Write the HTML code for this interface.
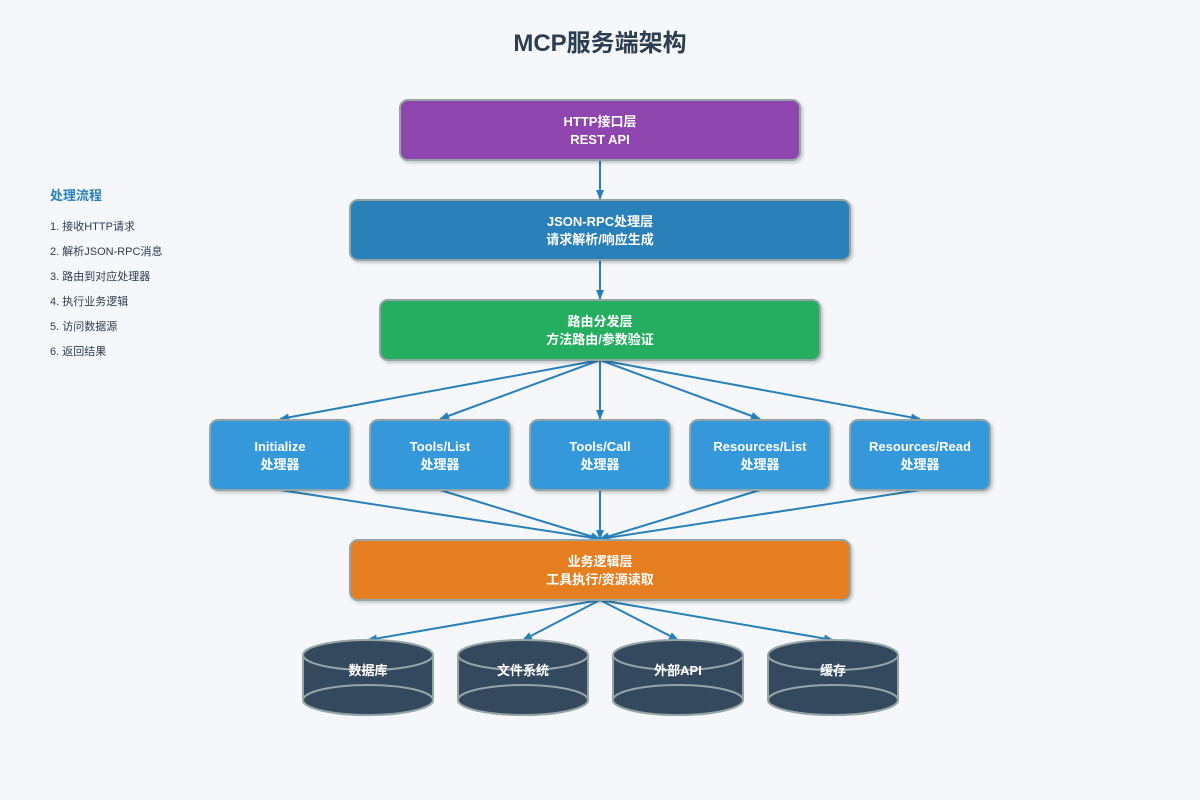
<!DOCTYPE html>
<html><head><meta charset="utf-8"><style>
html,body{margin:0;padding:0;background:#f5f7fa;}
svg{display:block;font-family:"Liberation Sans","Noto Sans CJK SC",sans-serif;}
</style></head><body>
<svg width="1200" height="800" viewBox="0 0 1200 800" xmlns="http://www.w3.org/2000/svg">
<defs>
<marker id="a" markerWidth="10" markerHeight="8" refX="9" refY="4" orient="auto" markerUnits="userSpaceOnUse"><path d="M0,0 L10,4 L0,8 Z" fill="#2980b9"/></marker>
<filter id="s" x="-10%" y="-10%" width="130%" height="140%"><feDropShadow dx="2" dy="2" stdDeviation="1.5" flood-color="#000" flood-opacity="0.2"/></filter>
</defs>
<rect width="1200" height="800" fill="#f5f7fa"/>
<text x="600" y="51" text-anchor="middle" font-size="24" font-weight="bold" fill="#2c3e50">MCP服务端架构</text>

<text x="50" y="200" font-size="13" font-weight="bold" fill="#2980b9">处理流程</text>
<g font-size="11" fill="#2c3e50">
<text x="50" y="230">1. 接收HTTP请求</text>
<text x="50" y="255">2. 解析JSON-RPC消息</text>
<text x="50" y="280">3. 路由到对应处理器</text>
<text x="50" y="305">4. 执行业务逻辑</text>
<text x="50" y="330">5. 访问数据源</text>
<text x="50" y="355">6. 返回结果</text>
</g>

<g stroke="#2980b9" stroke-width="2" fill="none" marker-end="url(#a)">
<line x1="600" y1="160" x2="600" y2="199"/>
<line x1="600" y1="260" x2="600" y2="299"/>
<line x1="600" y1="360" x2="280" y2="419"/>
<line x1="600" y1="360" x2="440" y2="419"/>
<line x1="600" y1="360" x2="600" y2="419"/>
<line x1="600" y1="360" x2="760" y2="419"/>
<line x1="600" y1="360" x2="920" y2="419"/>
<line x1="280" y1="490" x2="600" y2="539"/>
<line x1="440" y1="490" x2="600" y2="539"/>
<line x1="600" y1="490" x2="600" y2="539"/>
<line x1="760" y1="490" x2="600" y2="539"/>
<line x1="920" y1="490" x2="600" y2="539"/>
<line x1="600" y1="600" x2="368" y2="640"/>
<line x1="600" y1="600" x2="523" y2="640"/>
<line x1="600" y1="600" x2="678" y2="640"/>
<line x1="600" y1="600" x2="833" y2="640"/>
</g>

<g stroke="#95a5a6" stroke-width="2" filter="url(#s)">
<rect x="400" y="100" width="400" height="60" rx="8" fill="#8e44ad"/>
<rect x="350" y="200" width="500" height="60" rx="8" fill="#2980b9"/>
<rect x="380" y="300" width="440" height="60" rx="8" fill="#27ae60"/>
<rect x="210" y="420" width="140" height="70" rx="8" fill="#3498db"/>
<rect x="370" y="420" width="140" height="70" rx="8" fill="#3498db"/>
<rect x="530" y="420" width="140" height="70" rx="8" fill="#3498db"/>
<rect x="690" y="420" width="140" height="70" rx="8" fill="#3498db"/>
<rect x="850" y="420" width="140" height="70" rx="8" fill="#3498db"/>
<rect x="350" y="540" width="500" height="60" rx="8" fill="#e67e22"/>
</g>

<g fill="#fff" font-size="13" font-weight="bold" text-anchor="middle">
<text x="600" y="126">HTTP接口层</text><text x="600" y="144">REST API</text>
<text x="600" y="226">JSON-RPC处理层</text><text x="600" y="244">请求解析/响应生成</text>
<text x="600" y="326">路由分发层</text><text x="600" y="344">方法路由/参数验证</text>
<text x="280" y="451">Initialize</text><text x="280" y="469">处理器</text>
<text x="440" y="451">Tools/List</text><text x="440" y="469">处理器</text>
<text x="600" y="451">Tools/Call</text><text x="600" y="469">处理器</text>
<text x="760" y="451">Resources/List</text><text x="760" y="469">处理器</text>
<text x="920" y="451">Resources/Read</text><text x="920" y="469">处理器</text>
<text x="600" y="566">业务逻辑层</text><text x="600" y="584">工具执行/资源读取</text>
</g>

<g stroke="#95a5a6" stroke-width="2" fill="#34495e">
<g><path d="M303,655 L303,700 A65,15 0 0 0 433,700 L433,655"/><ellipse cx="368" cy="700" rx="65" ry="15"/><ellipse cx="368" cy="655" rx="65" ry="15"/></g>
<g><path d="M458,655 L458,700 A65,15 0 0 0 588,700 L588,655"/><ellipse cx="523" cy="700" rx="65" ry="15"/><ellipse cx="523" cy="655" rx="65" ry="15"/></g>
<g><path d="M613,655 L613,700 A65,15 0 0 0 743,700 L743,655"/><ellipse cx="678" cy="700" rx="65" ry="15"/><ellipse cx="678" cy="655" rx="65" ry="15"/></g>
<g><path d="M768,655 L768,700 A65,15 0 0 0 898,700 L898,655"/><ellipse cx="833" cy="700" rx="65" ry="15"/><ellipse cx="833" cy="655" rx="65" ry="15"/></g>
</g>
<g fill="#fff" font-size="13" font-weight="bold" text-anchor="middle">
<text x="368" y="675">数据库</text><text x="523" y="675">文件系统</text><text x="678" y="675">外部API</text><text x="833" y="675">缓存</text>
</g>
</svg>
</body></html>
